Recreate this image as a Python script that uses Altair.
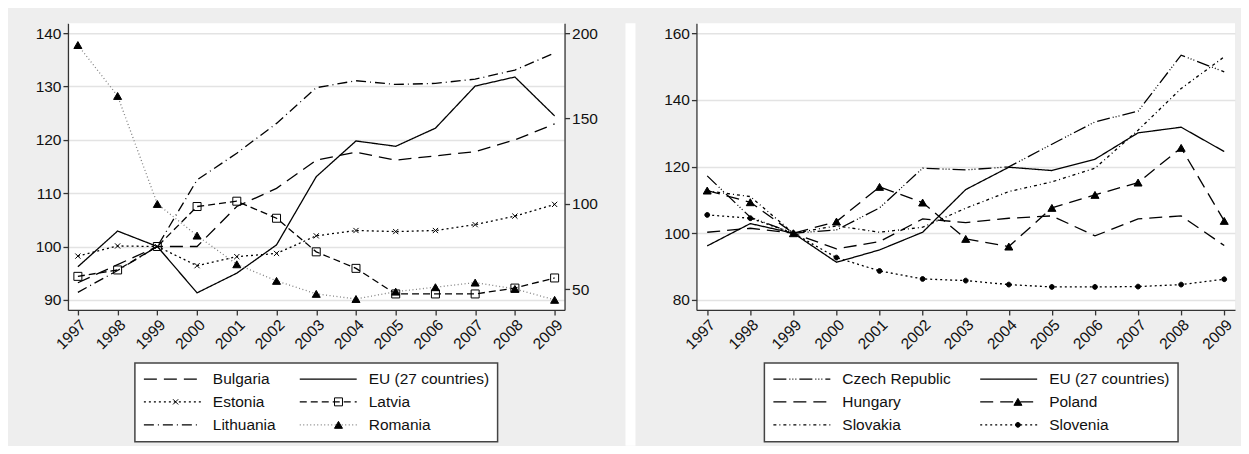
import pandas as pd
import altair as alt

years = list(range(1997, 2010))

# price level indices, 1999 = 100
eu27 = [96.2, 102.9, 100.0, 91.3, 95.0, 100.3, 113.1, 119.8, 118.8, 122.2, 130.1, 131.8, 124.5]
bulgaria = [93.2, 96.6, 100.0, 100.0, 107.5, 110.9, 116.2, 117.7, 116.2, 117.0, 117.8, 120.0, 123.0]
estonia = [98.2, 100.1, 100.0, 96.4, 98.1, 98.7, 102.0, 103.0, 102.8, 103.0, 104.1, 105.7, 107.9]
latvia = [94.4, 95.6, 100.0, 107.5, 108.5, 105.3, 99.0, 95.9, 91.1, 91.1, 91.1, 92.2, 94.1]
lithuania = [91.4, 95.5, 100.0, 112.5, 117.5, 123.1, 129.8, 131.1, 130.4, 130.6, 131.4, 133.1, 136.3]
romania = [193.0, 163.2, 100.0, 81.5, 64.7, 55.0, 47.4, 44.4, 48.7, 51.3, 54.0, 50.3, 43.9]  # right axis

czech = [117.2, 104.8, 100.0, 101.0, 107.6, 119.5, 119.0, 119.9, 126.7, 133.4, 136.6, 153.4, 148.4]
hungary = [100.3, 101.5, 100.0, 95.3, 97.5, 104.3, 103.2, 104.5, 105.2, 99.2, 104.3, 105.2, 96.3]
poland = [112.8, 109.3, 100.0, 103.5, 113.9, 109.2, 98.3, 96.0, 107.6, 111.5, 115.2, 125.6, 103.7]
slovakia = [112.7, 111.0, 100.0, 102.2, 100.3, 101.8, 107.5, 112.5, 115.4, 119.5, 130.9, 143.4, 152.9]
slovenia = [105.5, 104.5, 100.0, 92.7, 88.7, 86.3, 85.8, 84.6, 83.9, 83.9, 84.0, 84.6, 86.2]

left_names = ["Bulgaria", "EU (27 countries)", "Estonia", "Latvia", "Lithuania", "Romania"]
left_values = [bulgaria, eu27, estonia, latvia, lithuania, romania]
right_names = ["Czech Republic", "EU (27 countries)", "Hungary", "Poland", "Slovakia", "Slovenia"]
right_values = [czech, eu27, hungary, poland, slovakia, slovenia]

FONT = "Liberation Sans"
FS = 15.5
MK = "*"  # marker legend gets its own domain so Vega-Lite keeps it apart

dash_style = {
    "Bulgaria": [13, 7], "EU (27 countries)": [1, 0], "Estonia": [2, 3], "Latvia": [7, 4],
    "Lithuania": [10, 4, 1, 4], "Romania": [1, 2.5],
    "Czech Republic": [13, 3, 1, 2, 1, 2, 1, 3], "Hungary": [13, 7], "Poland": [13, 7],
    "Slovakia": [3, 3, 1, 3], "Slovenia": [2, 3],
}
line_color = {"Romania": "#808080"}

X_PATH = "M-0.65,-0.65L0.65,0.65M-0.65,0.65L0.65,-0.65"
DOT_PATH = "M0.6,0A0.6,0.6 0 1,1 -0.6,0A0.6,0.6 0 1,1 0.6,0Z"
NO_PATH = "M0,0"
marker_style = {
    "Estonia": (X_PATH, "transparent"), "Latvia": ("square", "transparent"),
    "Romania": ("triangle-up", "black"), "Poland": ("triangle-up", "black"),
    "Slovenia": (DOT_PATH, "black"),
}


def long_table(names, values):
    rows = []
    for name, vals in zip(names, values):
        for yr, v in zip(years, vals):
            rows.append({"year": yr, "value": v, "series": name, "marker": name + MK})
    return pd.DataFrame(rows)


def encodings(names, col_pad, mark_pad, lx):
    common = dict(orient="none", legendX=lx, legendY=340, columns=2, direction="horizontal",
                  title=None, clipHeight=16, rowPadding=6, padding=8,
                  labelFont=FONT, labelFontSize=FS)
    line_leg = alt.Legend(symbolType="stroke", symbolSize=3249, symbolStrokeWidth=1.3,
                          labelOffset=11, labelColor="#111", strokeColor="#444",
                          fillColor="white", zindex=0, columnPadding=col_pad, **common)
    # markers drawn on top of the line symbols, no text of their own
    mark_leg = alt.Legend(symbolSize=64, symbolStrokeColor="black", symbolStrokeWidth=1,
                          symbolOffset=25, labelOffset=0, labelExpr="''",
                          strokeColor="transparent", zindex=1, columnPadding=mark_pad, **common)
    dash = alt.StrokeDash("series:N", legend=line_leg,
                          scale=alt.Scale(domain=names, range=[dash_style[n] for n in names]))
    color = alt.Color("series:N", legend=line_leg,
                      scale=alt.Scale(domain=names, range=[line_color.get(n, "black") for n in names]))
    marks = [n + MK for n in names]
    shape = alt.Shape("marker:N", legend=mark_leg,
                      scale=alt.Scale(domain=marks,
                                      range=[marker_style.get(n, (NO_PATH, ""))[0] for n in names]))
    fill = alt.Fill("marker:N", legend=mark_leg,
                    scale=alt.Scale(domain=marks,
                                    range=[marker_style.get(n, ("", "transparent"))[1] for n in names]))
    stroke = alt.Stroke("marker:N", legend=mark_leg,
                        scale=alt.Scale(domain=marks, range=["black"] * len(names)))
    return dash, color, shape, fill, stroke


def x_enc():
    return alt.X("year:Q", title=None,
                 scale=alt.Scale(domain=[1996.75, 2009.25], nice=False, zero=False),
                 axis=alt.Axis(values=years, format="d", labelAngle=-45, labelAlign="right",
                               labelBaseline="top", grid=False, labelOverlap=False,
                               labelFlush=False))


def y_enc(domain, ticks, orient="left", grid=True):
    return alt.Y("value:Q", title=None,
                 scale=alt.Scale(domain=domain, nice=False, zero=False),
                 axis=alt.Axis(values=ticks, orient=orient, grid=grid))


def series_layer(df, names, y, enc):
    dash, color, shape, fill, stroke = enc
    base = alt.Chart(df)
    lines = base.mark_line(strokeWidth=1.3).encode(x=x_enc(), y=y, strokeDash=dash, color=color,
                                                   detail="series:N")
    with_marker = [n for n in names if n in marker_style and n in set(df["series"])]
    points = base.transform_filter(
        alt.FieldOneOfPredicate(field="series", oneOf=with_marker)
    ).mark_point(filled=True, size=64, strokeWidth=1, opacity=1).encode(
        x=x_enc(), y=y, shape=shape, fill=fill, stroke=stroke)
    return alt.layer(lines, points)


# left panel: Romania on its own right-hand axis
left_enc = encodings(left_names, 23, 122, 67)
left_main = long_table(left_names[:-1], left_values[:-1])
left_rom = long_table(left_names[-1:], left_values[-1:])
left = alt.layer(
    series_layer(left_main, left_names, y_enc([88.1, 141.9], [90, 100, 110, 120, 130, 140]), left_enc),
    series_layer(left_rom, left_names, y_enc([38, 205.8], [50, 100, 150, 200], "right", False), left_enc),
).resolve_scale(y="independent").properties(width=497, height=287)

right_enc = encodings(right_names, 28, 172, 68)
right = series_layer(long_table(right_names, right_values), right_names,
                     y_enc([77, 163], [80, 100, 120, 140, 160]), right_enc
                     ).properties(width=539, height=287)

# white strip between the two grey panels
spacer = alt.Chart(pd.DataFrame({"a": [0]})).mark_point(opacity=0).encode(
    x=alt.X("a:Q", axis=None), y=alt.Y("a:Q", axis=None)
).properties(width=10, height=423)

chart = alt.hconcat(left, spacer, right, spacing=28).resolve_scale(
    strokeDash="independent", color="independent", shape="independent", fill="independent",
    stroke="independent"
).resolve_legend(
    strokeDash="independent", color="independent", shape="independent", fill="independent",
    stroke="independent"
).properties(
    padding={"left": 27, "top": 15, "right": 5, "bottom": 0}
).configure(background="#eeeeee", font=FONT).configure_view(
    fill="white", stroke=None
).configure_axis(
    domainColor="#333", domainWidth=1.3, tickColor="#333", tickWidth=1.3, tickSize=5,
    labelFont=FONT, labelFontSize=FS, labelColor="#111", labelPadding=2,
    gridColor="#e3e3e3", gridWidth=1.5
).configure_legend(strokeWidth=1.5)

chart.save("out.html", embed_options={"renderer": "svg", "actions": False})
